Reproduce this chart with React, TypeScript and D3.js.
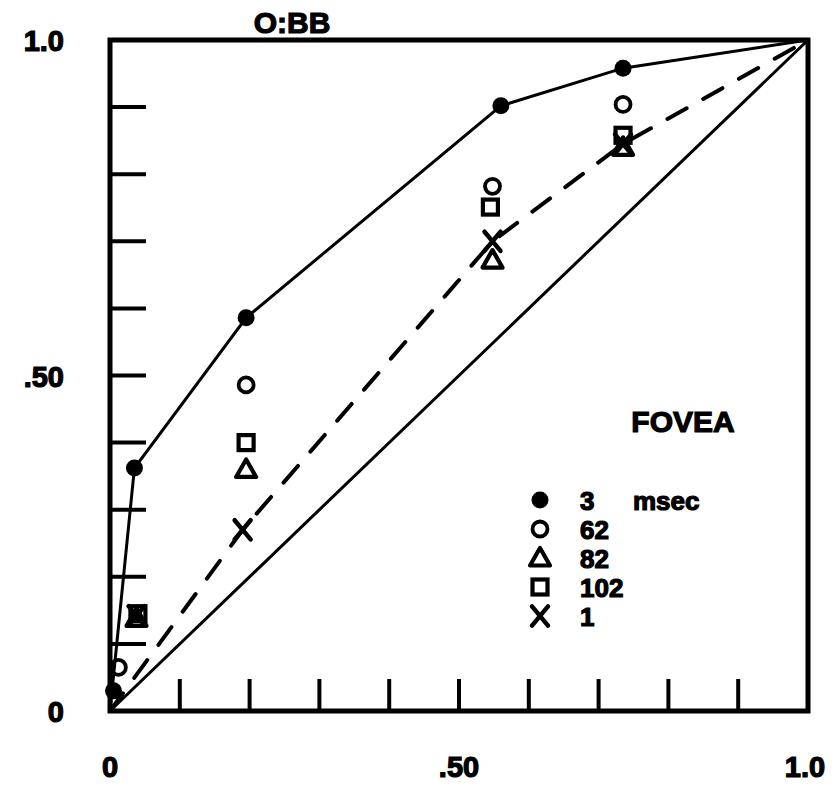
import React from "react";
import * as d3 from "d3";

// ROC-style points (x = false alarm, y = hit)
const msec3 = [[0.005, 0.03], [0.035, 0.362], [0.195, 0.586], [0.56, 0.902], [0.735, 0.958]];
const msec62 = [[0.012, 0.065], [0.195, 0.486], [0.548, 0.782], [0.735, 0.904]];
const msec82 = [[0.038, 0.138], [0.195, 0.36], [0.548, 0.672], [0.735, 0.84]];
const msec102 = [[0.04, 0.145], [0.195, 0.40], [0.545, 0.751], [0.735, 0.858]];
const msec1 = [[0.038, 0.142], [0.19, 0.27], [0.548, 0.70], [0.735, 0.845]];

const solidCurve = [[0, 0], [0.035, 0.362], [0.195, 0.586], [0.56, 0.902], [0.735, 0.958], [1, 1]];
const dashedCurve = [[0, 0], [0.19, 0.27], [0.548, 0.70], [0.735, 0.845], [1, 1]];
const chanceLine = [[0, 0], [1, 1]];

const tickValues = d3.range(0, 1.0001, 0.1);
const xTickLabels = [[0, "0"], [0.5, ".50"], [1, "1.0"]];
const yTickLabels = [[0, "0"], [0.5, ".50"], [1, "1.0"]];
const legendItems = [["filled", "3"], ["circle", "62"], ["triangle", "82"], ["square", "102"], ["x", "1"]];

const W = 839;
const H = 801;
const left = 110, right = 808, top = 40, bottom = 711;
const font = "'Liberation Sans', Arial, sans-serif";
// heavier lettering like the scan
const heavy = { fontFamily: font, fontWeight: "bold" as const, stroke: "#000", strokeWidth: 1.2, fill: "#000" };

function Marker({ kind, cx, cy }: { kind: string; cx: number; cy: number }) {
  if (kind === "filled") return <circle cx={cx} cy={cy} r={8.5} fill="#000" />;
  if (kind === "circle") return <circle cx={cx} cy={cy} r={7.5} fill="none" stroke="#000" strokeWidth={3.8} />;
  if (kind === "triangle") {
    const s = 10;
    return <path d={`M${cx},${cy - s}L${cx + s},${cy + s * 0.75}L${cx - s},${cy + s * 0.75}Z`} fill="none" stroke="#000" strokeWidth={4.2} strokeLinejoin="round" />;
  }
  if (kind === "square") return <rect x={cx - 7.5} y={cy - 7.5} width={15} height={15} fill="none" stroke="#000" strokeWidth={4.2} />;
  const s = 8;
  return <path d={`M${cx - s},${cy - s * 1.2}L${cx + s},${cy + s * 1.2}M${cx + s},${cy - s * 1.2}L${cx - s},${cy + s * 1.2}`} stroke="#000" strokeWidth={4.5} strokeLinecap="round" />;
}

export default function App() {
  const x = d3.scaleLinear().domain([0, 1]).range([left, right]);
  const y = d3.scaleLinear().domain([0, 1]).range([bottom, top]);
  const line = d3.line<number[]>().x(d => x(d[0])).y(d => y(d[1]));

  const series: [string, number[][]][] = [
    ["filled", msec3], ["circle", msec62], ["triangle", msec82], ["square", msec102], ["x", msec1]
  ];

  return (
    <svg width={W} height={H} style={{ position: "absolute", left: 0, top: 0, background: "#fff" }}>
      {/* curves */}
      <path d={line(chanceLine) || ""} fill="none" stroke="#000" strokeWidth={3} />
      <path d={line(dashedCurve) || ""} fill="none" stroke="#000" strokeWidth={4} strokeDasharray="22,19" strokeLinecap="round" />
      <path d={line(solidCurve) || ""} fill="none" stroke="#000" strokeWidth={3} />

      {/* ticks */}
      {tickValues.slice(1, 10).map(t => (
        <line key={"xt" + t} x1={x(t)} x2={x(t)} y1={bottom} y2={bottom - 32} stroke="#000" strokeWidth={4} />
      ))}
      {tickValues.slice(1, 10).map(t => (
        <line key={"yt" + t} x1={left} x2={left + 36} y1={y(t)} y2={y(t)} stroke="#000" strokeWidth={4} />
      ))}

      {/* frame */}
      <rect x={left} y={top} width={right - left} height={bottom - top} fill="none" stroke="#000" strokeWidth={5} />

      {/* points */}
      {series.map(([kind, pts]) =>
        pts.map((p, i) => <Marker key={kind + i} kind={kind} cx={x(p[0])} cy={y(p[1])} />)
      )}

      {/* axis labels */}
      {yTickLabels.map(([v, s]) => (
        <text key={"yl" + s} x={64} y={y(v as number) + 11} textAnchor="end" fontSize={29} {...heavy}>{s}</text>
      ))}
      {xTickLabels.map(([v, s]) => (
        <text key={"xl" + s} x={x(v as number) + (v === 1 ? -3 : 0)} y={777} textAnchor="middle" fontSize={29} {...heavy}>{s}</text>
      ))}

      <text x={292} y={33} textAnchor="middle" fontSize={30} {...heavy}>O:BB</text>
      <text x={683} y={432} textAnchor="middle" fontSize={30} {...heavy}>FOVEA</text>

      {/* legend */}
      {legendItems.map(([kind, label], i) => {
        const ly = 500 + i * 29;
        return (
          <g key={"lg" + label}>
            <Marker kind={kind} cx={540} cy={ly} />
            <text x={580} y={ly + 10} fontSize={26} {...heavy}>{label}</text>
            {i === 0 && <text x={633} y={ly + 10} fontSize={26} {...heavy}>msec</text>}
          </g>
        );
      })}
    </svg>
  );
}
